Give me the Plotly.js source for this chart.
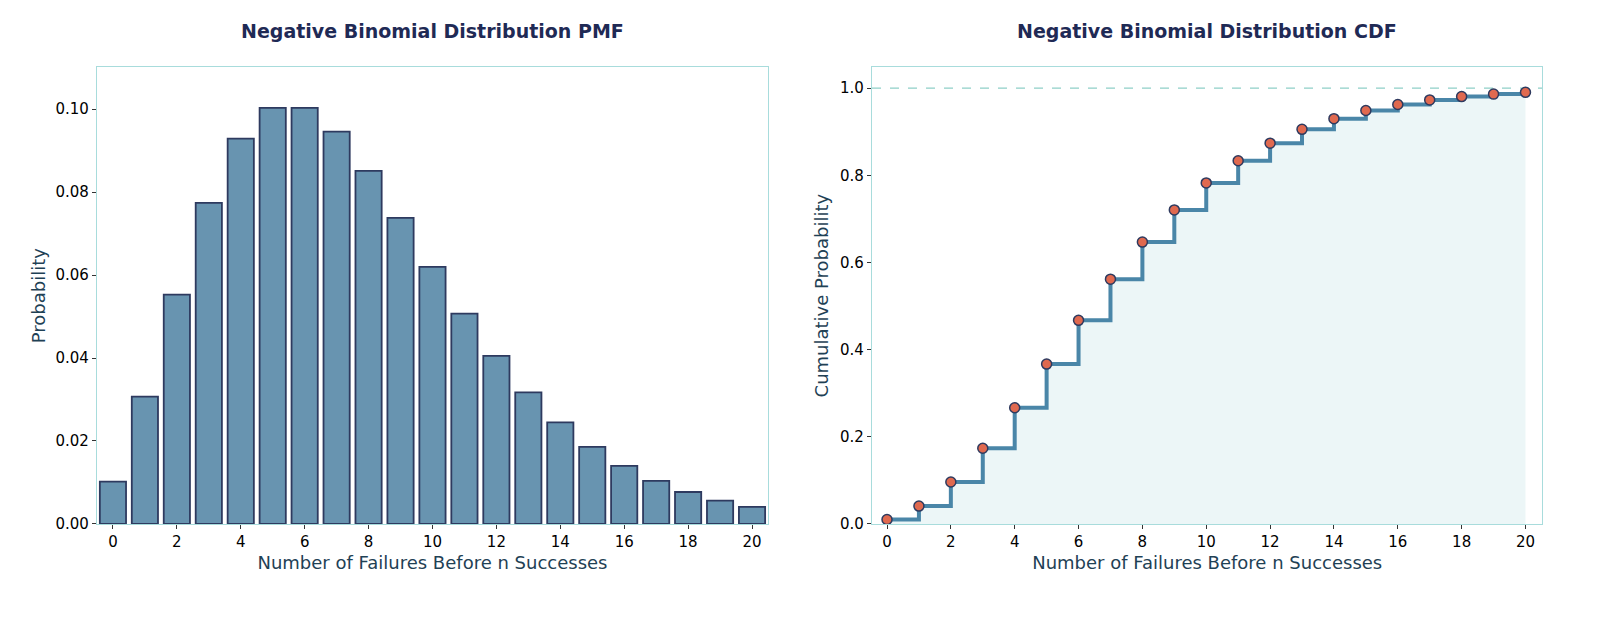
<!DOCTYPE html>
<html>
<head>
<meta charset="utf-8">
<script src="https://cdn.plot.ly/plotly-3.0.1.min.js"></script>
<style>
  html, body { margin: 0; padding: 0; background: #ffffff; }
  #chart { width: 1600px; height: 623px; }
</style>
</head>
<body>
<div id="chart"></div>
<script>
// ------------------------------------------------------------------------------
// DATA

const failures = [0, 1, 2, 3, 4, 5, 6, 7, 8, 9, 10, 11, 12, 13, 14, 15, 16, 17, 18, 19, 20];

const pmf_values = [
    0.0102, 0.0307, 0.0553, 0.0774, 0.0929, 0.1003, 0.1003, 0.0946, 0.0851, 0.0738,
    0.0620, 0.0507, 0.0405, 0.0317, 0.0245, 0.0186, 0.0140, 0.0104, 0.0077, 0.0056,
    0.0041
];

const cdf_values = [
    0.0102, 0.0410, 0.0963, 0.1737, 0.2666, 0.3669, 0.4672, 0.5618, 0.6469, 0.7207,
    0.7827, 0.8334, 0.8739, 0.9056, 0.9301, 0.9487, 0.9627, 0.9731, 0.9808, 0.9864,
    0.9905
];

const x_ticks = [0, 2, 4, 6, 8, 10, 12, 14, 16, 18, 20];
const pmf_ticks = [0.00, 0.02, 0.04, 0.06, 0.08, 0.10];
const cdf_ticks = [0.0, 0.2, 0.4, 0.6, 0.8, 1.0];

// ------------------------------------------------------------------------------
// STYLE

const font_family  = 'DejaVu Sans, sans-serif';
const frame_color  = '#a8dcdc';
const label_color  = '#1f4155';
const title_color  = '#1f2a55';

function axisBase(extra) {
    const base = {
        showline: true,
        mirror: true,
        linecolor: frame_color,
        linewidth: 1.2,
        showgrid: false,
        zeroline: false,
        ticks: 'outside',
        ticklen: 4,
        tickwidth: 1,
        tickcolor: '#333333',
        tickfont: { family: font_family, size: 15, color: '#000000' }
    };
    return Object.assign(base, extra);
}

// ------------------------------------------------------------------------------
// TRACES

const pmf_trace = {
    type: 'bar',
    x: failures,
    y: pmf_values,
    width: 0.82,
    marker: {
        color: '#6894b0',
        line: { color: '#2e3a5f', width: 1.8 }
    },
    xaxis: 'x',
    yaxis: 'y',
    hoverinfo: 'x+y',
    showlegend: false
};

const cdf_fill = {
    type: 'scatter',
    mode: 'none',
    x: failures,
    y: cdf_values,
    line: { shape: 'hv' },
    fill: 'tozeroy',
    fillcolor: 'rgba(168, 212, 220, 0.22)',
    xaxis: 'x2',
    yaxis: 'y2',
    hoverinfo: 'skip',
    showlegend: false
};

const cdf_step = {
    type: 'scatter',
    mode: 'lines',
    x: failures,
    y: cdf_values,
    line: { shape: 'hv', color: '#4a86a8', width: 4 },
    xaxis: 'x2',
    yaxis: 'y2',
    hoverinfo: 'skip',
    showlegend: false
};

const cdf_points = {
    type: 'scatter',
    mode: 'markers',
    x: failures,
    y: cdf_values,
    marker: {
        color: '#e0694f',
        size: 10,
        line: { color: '#2e3a5f', width: 1.5 }
    },
    xaxis: 'x2',
    yaxis: 'y2',
    hoverinfo: 'x+y',
    showlegend: false
};

// ------------------------------------------------------------------------------
// LAYOUT

const layout = {
    width: 1600,
    height: 623,
    paper_bgcolor: '#ffffff',
    plot_bgcolor: '#ffffff',
    margin: { l: 0, r: 0, t: 0, b: 0 },
    font: { family: font_family },
    xaxis: axisBase({
        domain: [0.0606, 0.48],
        range: [-0.5, 20.5],
        tickvals: x_ticks,
        title: { text: 'Number of Failures Before n Successes', standoff: 6,
                 font: { family: font_family, size: 18, color: label_color } }
    }),
    yaxis: axisBase({
        domain: [0.159, 0.892],
        range: [0, 0.1101],
        tickvals: pmf_ticks,
        tickformat: '.2f',
        title: { text: 'Probability', standoff: 5,
                 font: { family: font_family, size: 18, color: label_color } }
    }),
    xaxis2: axisBase({
        anchor: 'y2',
        domain: [0.545, 0.964],
        range: [-0.47, 20.53],
        tickvals: x_ticks,
        title: { text: 'Number of Failures Before n Successes', standoff: 6,
                 font: { family: font_family, size: 18, color: label_color } }
    }),
    yaxis2: axisBase({
        anchor: 'x2',
        domain: [0.159, 0.892],
        range: [0, 1.048],
        tickvals: cdf_ticks,
        tickformat: '.1f',
        title: { text: 'Cumulative Probability', standoff: 6,
                 font: { family: font_family, size: 18, color: label_color } }
    }),
    shapes: [
        {
            type: 'line',
            xref: 'x2 domain',
            yref: 'y2',
            x0: 0, x1: 1,
            y0: 1, y1: 1,
            line: { color: '#8fd0c8', width: 1.3, dash: 'dash' },
            layer: 'below'
        }
    ],
    annotations: [
        {
            text: '<b>Negative Binomial Distribution PMF</b>',
            xref: 'paper', yref: 'paper',
            x: 0.2703, y: 0.95,
            xanchor: 'center', yanchor: 'middle',
            showarrow: false,
            font: { family: font_family, size: 19, color: title_color }
        },
        {
            text: '<b>Negative Binomial Distribution CDF</b>',
            xref: 'paper', yref: 'paper',
            x: 0.7545, y: 0.95,
            xanchor: 'center', yanchor: 'middle',
            showarrow: false,
            font: { family: font_family, size: 19, color: title_color }
        }
    ]
};

Plotly.newPlot('chart', [pmf_trace, cdf_fill, cdf_step, cdf_points], layout, { displayModeBar: false, responsive: false });
</script>
</body>
</html>
